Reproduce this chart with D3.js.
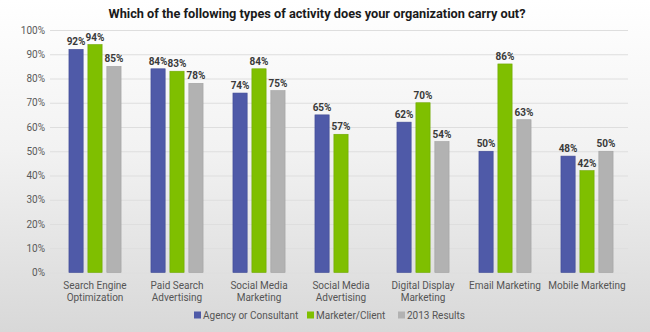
<!DOCTYPE html>
<html>
<head>
<meta charset="utf-8">
<script src="https://cdn.jsdelivr.net/npm/d3@7"></script>
<style>
  html, body { margin: 0; padding: 0; }
  body { width: 650px; height: 332px; overflow: hidden; }
  svg { display: block; font-family: Roboto, "Noto Sans", sans-serif; }
</style>
</head>
<body>
<svg id="chart" width="650" height="332"></svg>
<script>
// Survey: which types of activity organizations carry out
const categories = [
  ["Search Engine", "Optimization"],
  ["Paid Search", "Advertising"],
  ["Social Media", "Marketing"],
  ["Social Media", "Advertising"],
  ["Digital Display", "Marketing"],
  ["Email Marketing"],
  ["Mobile Marketing"]
];
const seriesNames = ["Agency or Consultant", "Marketer/Client", "2013 Results"];
const agency    = [92, 84, 74, 65, 62, 50, 48];
const marketer  = [94, 83, 84, 57, 70, 86, 42];
const results13 = [85, 78, 75, null, 54, 63, 50];
const yTicks = [0, 10, 20, 30, 40, 50, 60, 70, 80, 90, 100];
const titleText = "Which of the following types of activity does your organization carry out?";

const colors = ["#4f5aa8", "#7fbf00", "#b2b2b2"];
const strokes = ["#3f4a94", "#6fa800", "#a0a0a0"];

const W = 650, H = 332;
const svg = d3.select("#chart");

// background gradient
const defs = svg.append("defs");
const grad = defs.append("linearGradient").attr("id", "bg").attr("x1", 0).attr("y1", 0).attr("x2", 0).attr("y2", 1);
grad.append("stop").attr("offset", "0%").attr("stop-color", "#ffffff");
grad.append("stop").attr("offset", "45%").attr("stop-color", "#f2f2f2");
grad.append("stop").attr("offset", "100%").attr("stop-color", "#d8d8d8");
svg.append("rect").attr("width", W).attr("height", H).attr("fill", "url(#bg)");

const x0 = d3.scaleBand().domain(d3.range(categories.length)).range([54, 628]).paddingInner(0).paddingOuter(0);
const x1 = d3.scaleBand().domain(d3.range(3)).range([0, 54]).paddingInner(0.25).paddingOuter(0.05);
const y = d3.scaleLinear().domain([0, 100]).range([272.5, 30]);

// title
svg.append("text")
  .attr("x", 317).attr("y", 17.5)
  .attr("text-anchor", "middle")
  .attr("font-size", 13).attr("font-weight", "bold").attr("fill", "#1a1a1a")
  .attr("textLength", 417).attr("lengthAdjust", "spacingAndGlyphs")
  .text(titleText);

// y axis with gridlines
const yAxis = d3.axisLeft(y).tickValues(yTicks).tickFormat(d => d + "%").tickSize(-(628 - 50)).tickPadding(5);
const gy = svg.append("g").attr("transform", "translate(50,0)").call(yAxis);
gy.select(".domain").remove();
gy.selectAll(".tick line").attr("stroke", "#dedede").attr("stroke-width", 1);
gy.selectAll(".tick text").attr("font-size", 10).attr("fill", "#5a5a5a").attr("font-family", "Roboto, sans-serif");

// bars
const series = [agency, marketer, results13];
const groups = svg.append("g").selectAll("g").data(categories).join("g")
  .attr("transform", (d, i) => `translate(${x0(i) + x0.bandwidth() / 2 - 27},0)`);

groups.each(function(cat, i) {
  const g = d3.select(this);
  const vals = series.map((s, k) => ({ k, v: s[i] })).filter(d => d.v != null);
  g.selectAll("rect").data(vals).join("rect")
    .attr("x", d => x1(d.k))
    .attr("y", d => y(d.v))
    .attr("width", x1.bandwidth())
    .attr("height", d => y(0) - y(d.v))
    .attr("fill", d => colors[d.k])
    .attr("stroke", d => strokes[d.k])
    .attr("stroke-width", 0.6);
  g.selectAll("text.val").data(vals).join("text")
    .attr("class", "val")
    .attr("x", d => x1(d.k) + x1.bandwidth() / 2)
    .attr("y", d => y(d.v) - 4)
    .attr("text-anchor", "middle")
    .attr("font-size", 10).attr("font-weight", "bold").attr("fill", "#3a3a3a")
    .text(d => d.v + "%");
});

// category labels, one text per line
const catLines = categories.flatMap((lines, i) => lines.map((t, j) => ({ i, j, t })));
svg.append("g").selectAll("text").data(catLines).join("text")
  .attr("x", d => x0(d.i) + x0.bandwidth() / 2)
  .attr("y", d => 289 + d.j * 11.5)
  .attr("text-anchor", "middle")
  .attr("font-size", 10).attr("fill", "#555")
  .text(d => d.t);

// legend
const legendX = [194, 307, 398];
const legend = svg.append("g").selectAll("g").data(seriesNames).join("g")
  .attr("transform", (d, i) => `translate(${legendX[i]},315)`);
legend.append("rect").attr("x", 0).attr("y", -3.5).attr("width", 7).attr("height", 7)
  .attr("fill", (d, i) => colors[i]);
legend.append("text").attr("x", 9).attr("y", 3.6)
  .attr("font-size", 10).attr("fill", "#555")
  .text(d => d);
</script>
</body>
</html>
